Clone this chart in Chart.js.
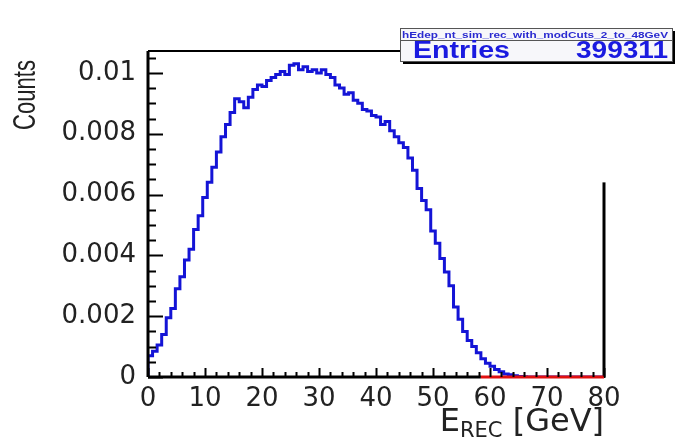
<!DOCTYPE html>
<html>
<head>
<meta charset="utf-8">
<script src="https://cdn.jsdelivr.net/npm/chart.js@4/dist/chart.umd.min.js"></script>
<style>
  html, body { margin: 0; padding: 0; background: #ffffff; }
  #wrap { position: relative; width: 681px; height: 439px; }
</style>
</head>
<body>
<div id="wrap"><canvas id="histChart" width="681" height="439"></canvas></div>
<script>
// histogram: 100 bins of 0.8 GeV from 0 to 80
const binWidth = 0.8;
const counts = [
  0.00070, 0.00085, 0.00105, 0.00140, 0.00195, 0.00225, 0.00290, 0.00330, 0.00385, 0.00420,
  0.00485, 0.00530, 0.00590, 0.00640, 0.00690, 0.00740, 0.00790, 0.00830, 0.00870, 0.00915,
  0.00905, 0.00885, 0.00920, 0.00945, 0.00960, 0.00955, 0.00975, 0.00985, 0.00995, 0.01005,
  0.00995, 0.01025, 0.01030, 0.01010, 0.01020, 0.01005, 0.01010, 0.01000, 0.01010, 0.00995,
  0.00985, 0.00960, 0.00950, 0.00930, 0.00935, 0.00910, 0.00900, 0.00880, 0.00875, 0.00860,
  0.00855, 0.00830, 0.00840, 0.00810, 0.00790, 0.00770, 0.00755, 0.00720, 0.00680, 0.00620,
  0.00580, 0.00550, 0.00480, 0.00440, 0.00390, 0.00345, 0.00300, 0.00230, 0.00190, 0.00150,
  0.00120, 0.00100, 0.00080, 0.00060, 0.00045, 0.00035, 0.00025, 0.00017, 0.00010, 0.00007,
  0.00004, 0.00002, 0.00001, 0, 0, 0, 0, 0, 0, 0,
  0, 0, 0, 0, 0, 0, 0, 0, 0, 0
];
// second (empty) histogram only visible along the axis
const redX = [58.4, 80];
const redY = [0, 0];

const xTicks = [0, 10, 20, 30, 40, 50, 60, 70, 80];
const yTicks = [0, 0.002, 0.004, 0.006, 0.008, 0.01];
const xMinorStep = 2;
const yMinorStep = 0.0005;

const yTitle = 'Counts';
const histName = 'hEdep_nt_sim_rec_with_modCuts_2_to_48GeV';
const entriesLabel = 'Entries';
const entriesValue = '399311';

const histPoints = [{ x: 0, y: 0 }];
counts.forEach((c, i) => histPoints.push({ x: i * binWidth, y: c }));
histPoints.push({ x: 80, y: counts[counts.length - 1] });

// draw text squeezed/stretched to a given width
function fitText(ctx, text, x, y, width, align) {
  const w = ctx.measureText(text).width;
  ctx.save();
  const left = align === 'right' ? x - width : x;
  ctx.translate(left, y);
  ctx.scale(width / w, 1);
  ctx.textAlign = 'left';
  ctx.fillText(text, 0, 0);
  ctx.restore();
}

const rootFrame = {
  id: 'rootFrame',
  afterDraw(chart) {
    const ctx = chart.ctx;
    const a = chart.chartArea;
    const xs = chart.scales.x, ys = chart.scales.y;
    ctx.save();
    ctx.strokeStyle = '#000';

    // frame
    ctx.lineWidth = 3;
    ctx.beginPath();
    ctx.moveTo(a.left, a.top); ctx.lineTo(a.left, a.bottom);
    ctx.moveTo(a.left, a.bottom); ctx.lineTo(xs.getPixelForValue(redX[0]), a.bottom);
    ctx.stroke();
    ctx.lineWidth = 2;
    ctx.beginPath();
    ctx.moveTo(a.left, a.top); ctx.lineTo(a.right, a.top);
    ctx.stroke();
    ctx.lineWidth = 3;
    ctx.beginPath();
    ctx.moveTo(a.right, ys.getPixelForValue(0.0064)); ctx.lineTo(a.right, a.bottom + 1);
    ctx.stroke();

    // red histogram on top of the axis
    ctx.strokeStyle = '#e01010';
    ctx.lineWidth = 3;
    ctx.beginPath();
    ctx.moveTo(xs.getPixelForValue(redX[0]), ys.getPixelForValue(redY[0]));
    ctx.lineTo(xs.getPixelForValue(redX[1]), ys.getPixelForValue(redY[1]));
    ctx.stroke();

    // ticks (inside the frame)
    ctx.strokeStyle = '#000';
    ctx.lineWidth = 2;
    ctx.beginPath();
    for (let v = 0; v <= 0.0107; v += yMinorStep) {
      const y = Math.round(ys.getPixelForValue(v)) + 0.5;
      const major = yTicks.some(t => Math.abs(t - v) < 1e-7);
      ctx.moveTo(a.left, y); ctx.lineTo(a.left + (major ? 15 : 8), y);
    }
    for (let v = 0; v <= 80; v += xMinorStep) {
      const x = Math.round(xs.getPixelForValue(v)) + 0.5;
      const major = xTicks.includes(v);
      ctx.moveTo(x, a.bottom); ctx.lineTo(x, a.bottom - (major ? 9 : 5));
    }
    ctx.stroke();

    // y title, rotated and widened like the original
    ctx.fillStyle = '#222';
    ctx.font = '22px "Liberation Sans"';
    ctx.save();
    ctx.translate(35, 130);
    ctx.rotate(-Math.PI / 2);
    ctx.scale(1, 1.4);
    ctx.textAlign = 'left';
    ctx.textBaseline = 'alphabetic';
    const wC = ctx.measureText(yTitle).width;
    ctx.scale(70 / wC, 1);
    ctx.fillText(yTitle, 0, 0);
    ctx.restore();

    // x title with subscript
    ctx.textBaseline = 'alphabetic';
    const big = '32px "DejaVu Sans"', small = '21px "DejaVu Sans"';
    ctx.font = big;
    const wE = ctx.measureText('E').width;
    const wRest = ctx.measureText(' [GeV]').width;
    ctx.font = small;
    const wSub = ctx.measureText('REC').width;
    let tx = a.right - (wE + wSub + wRest);
    const ty = 431;
    ctx.textAlign = 'left';
    ctx.font = big; ctx.fillText('E', tx, ty); tx += wE;
    ctx.font = small; ctx.fillText('REC', tx, ty + 6); tx += wSub;
    ctx.font = big; ctx.fillText(' [GeV]', tx, ty);

    // stats box
    const bx = 400, by = 28, bw = 272, bh = 33;
    ctx.fillStyle = '#000';
    ctx.fillRect(bx + 3, by + bh, bw, 3);
    ctx.fillRect(bx + bw, by + 3, 3, bh);
    ctx.fillStyle = '#f7f7fa';
    ctx.fillRect(bx, by, bw, bh);
    ctx.lineWidth = 1;
    ctx.strokeStyle = '#555';
    ctx.strokeRect(bx + 0.5, by + 0.5, bw, bh);
    ctx.beginPath();
    ctx.moveTo(bx, by + 12.5); ctx.lineTo(bx + bw, by + 12.5);
    ctx.stroke();
    ctx.fillStyle = '#2a2ad0';
    ctx.font = 'bold 9px "Liberation Sans"';
    fitText(ctx, histName, bx + 2, by + 10, 266, 'left');
    ctx.fillStyle = '#1a1ae0';
    ctx.font = 'bold 23px "Liberation Sans"';
    fitText(ctx, entriesLabel, bx + 13, by + 30, 97, 'left');
    fitText(ctx, entriesValue, bx + 268, by + 30, 92, 'right');
    ctx.restore();
  }
};

new Chart(document.getElementById('histChart'), {
  type: 'line',
  data: {
    datasets: [{
      label: histName,
      data: histPoints,
      borderColor: '#1414d6',
      borderWidth: 3,
      pointRadius: 0,
      fill: false,
      stepped: 'before',
      tension: 0
    }]
  },
  options: {
    responsive: false,
    animation: false,
    layout: { padding: { left: 0, top: 51, right: 77, bottom: 0 } },
    plugins: {
      legend: { display: false },
      tooltip: { enabled: false }
    },
    scales: {
      x: {
        type: 'linear',
        min: 0,
        max: 80,
        afterFit: s => { s.height = 62; },
        afterBuildTicks: s => { s.ticks = xTicks.map(v => ({ value: v })); },
        grid: { display: false, drawTicks: false },
        border: { display: false },
        ticks: {
          padding: 7,
          maxRotation: 0,
          color: '#222',
          font: { family: 'DejaVu Sans', size: 26 },
          callback: v => String(v)
        }
      },
      y: {
        min: 0,
        max: 0.01072,
        afterFit: s => { s.width = 148; },
        afterBuildTicks: s => { s.ticks = yTicks.map(v => ({ value: v })); },
        grid: { display: false, drawTicks: false },
        border: { display: false },
        ticks: {
          padding: 12,
          color: '#222',
          font: { family: 'DejaVu Sans', size: 26 },
          callback: v => String(+v.toFixed(4))
        }
      }
    }
  },
  plugins: [rootFrame]
});
</script>
</body>
</html>
